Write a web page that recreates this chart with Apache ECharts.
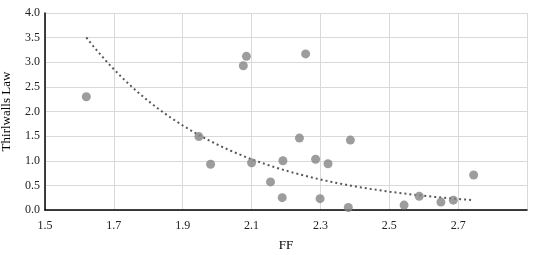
<!DOCTYPE html>
<html>
<head>
<meta charset="utf-8">
<script src="https://cdn.jsdelivr.net/npm/echarts@6/dist/echarts.min.js"></script>
<style>
  html, body { margin: 0; padding: 0; background: #fff; }
  #chart { width: 538px; height: 255px; }
</style>
</head>
<body>
<div id="chart"></div>
<script>
// values
const ffValues = [1.62, 2.085, 2.076, 1.947, 1.981, 2.10, 2.155, 2.257, 2.239, 2.387, 2.191,
                  2.286, 2.322, 2.189, 2.299, 2.381, 2.543, 2.587, 2.65, 2.686, 2.745];
const thirlwallValues = [2.30, 3.12, 2.93, 1.49, 0.93, 0.96, 0.57, 3.17, 1.46, 1.42, 1.00,
                         1.03, 0.94, 0.25, 0.23, 0.05, 0.10, 0.28, 0.16, 0.20, 0.71];
const xTicks = [1.5, 1.7, 1.9, 2.1, 2.3, 2.5, 2.7];
const yTicks = [0.0, 0.5, 1.0, 1.5, 2.0, 2.5, 3.0, 3.5, 4.0];

const points = ffValues.map((x, i) => [x, thirlwallValues[i]]);

// exponential trendline (least squares on ln y), like the spreadsheet one
function expTrend(xs, ys, steps) {
    const n = xs.length;
    const ly = ys.map(v => Math.log(v));
    const mx = xs.reduce((a, b) => a + b, 0) / n;
    const my = ly.reduce((a, b) => a + b, 0) / n;
    let sxy = 0, sxx = 0;
    for (let i = 0; i < n; i++) {
        sxy += (xs[i] - mx) * (ly[i] - my);
        sxx += (xs[i] - mx) * (xs[i] - mx);
    }
    const b = sxy / sxx;
    const a = my - b * mx;
    const lo = Math.min(...xs), hi = Math.max(...xs);
    const out = [];
    for (let k = 0; k <= steps; k++) {
        const x = lo + (hi - lo) * k / steps;
        out.push([x, Math.exp(a + b * x)]);
    }
    return out;
}
const trend = expTrend(ffValues, thirlwallValues, 60);

const font = "'Liberation Serif', 'Times New Roman', serif";
const chart = echarts.init(document.getElementById('chart'), null, { renderer: 'canvas' });
chart.setOption({
    animation: false,
    textStyle: { fontFamily: font },
    grid: { left: 45, right: 11, top: 13, bottom: 45, containLabel: false, outerBoundsMode: 'none' },
    xAxis: {
        type: 'value',
        min: 1.5,
        max: 2.9,
        interval: 0.2,
        name: 'FF',
        nameLocation: 'middle',
        nameGap: 29,
        nameTextStyle: { fontFamily: font, fontSize: 13, color: '#000' },
        axisLine: { show: true, onZero: false, lineStyle: { color: '#000', width: 1.5 } },
        axisTick: { show: false },
        axisLabel: {
            fontFamily: font, fontSize: 12, color: '#222', margin: 10,
            formatter: v => xTicks.some(t => Math.abs(t - v) < 1e-6) ? v.toFixed(1) : ''
        },
        splitLine: { show: true, lineStyle: { color: '#d9d9d9', width: 1 } }
    },
    yAxis: {
        type: 'value',
        min: 0,
        max: 4,
        interval: 0.5,
        name: 'Thirlwalls Law',
        nameLocation: 'middle',
        nameGap: 32,
        nameTextStyle: { fontFamily: font, fontSize: 13, color: '#000' },
        axisLine: { show: true, lineStyle: { color: '#000', width: 1.5 } },
        axisTick: { show: false },
        axisLabel: {
            fontFamily: font, fontSize: 12, color: '#222', margin: 5,
            formatter: v => yTicks.some(t => Math.abs(t - v) < 1e-6) ? v.toFixed(1) : ''
        },
        splitLine: { show: true, lineStyle: { color: '#d9d9d9', width: 1 } }
    },
    series: [
        {
            type: 'line',
            data: trend,
            showSymbol: false,
            symbol: 'none',
            smooth: false,
            lineStyle: { color: '#595959', width: 2, type: [2, 3] },
            z: 2
        },
        {
            type: 'scatter',
            data: points,
            symbol: 'circle',
            symbolSize: 9,
            itemStyle: { color: '#858585' },
            z: 3
        }
    ]
});
</script>
</body>
</html>
